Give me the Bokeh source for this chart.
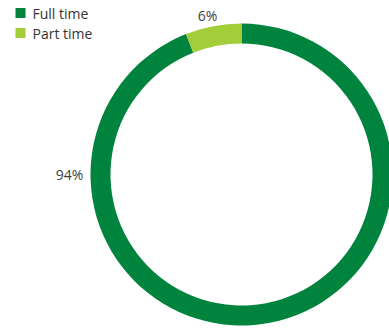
import math
from bokeh.plotting import figure
from bokeh.models import Range1d, ColumnDataSource
from bokeh.core.properties import value
from bokeh.embed import file_html
from bokeh.resources import INLINE

categories = ["Full time", "Part time"]
values = [94, 6]
labels = ["94%", "6%"]
colors = ["#00843D", "#A3CD39"]

W, H = 389, 329
p = figure(width=W, height=H, output_backend="svg", toolbar_location=None,
           x_range=Range1d(0, W), y_range=Range1d(0, H), min_border=0)
p.axis.visible = False
p.grid.visible = False
p.outline_line_color = None
p.background_fill_color = "white"
p.border_fill_color = "white"

cx, cy = 241, 155
r_out, r_in = 151, 131

total = sum(values)
# Full time drawn clockwise from 12 o'clock; part time fills the rest
starts, ends = [], []
a = math.pi / 2
for v in values:
    sweep = 2 * math.pi * v / total
    starts.append(a - sweep)
    ends.append(a)
    a -= sweep
src = ColumnDataSource(dict(start=starts, end=ends, color=colors))
p.annular_wedge(x=cx, y=cy, inner_radius=r_in, outer_radius=r_out,
                start_angle="start", end_angle="end", color="color",
                line_color=None, source=src)

# value labels
label_pos = {"94%": (180, 172), "6%": (102, 163)}
lx, ly = [], []
for lab in labels:
    ang, rr = label_pos[lab]
    lx.append(cx + rr * math.cos(math.radians(ang)))
    ly.append(cy + rr * math.sin(math.radians(ang)))
p.text(x=lx, y=ly, text=labels, text_font=value("Open Sans"),
       text_font_size="14px", text_color="#404040",
       text_align="center", text_baseline="middle")

# legend
leg_y = [H - 13, H - 33]
p.rect(x=[20, 20], y=[H - 12.5, H - 32.5], width=10, height=10,
       color=colors, line_color=None)
p.text(x=[32, 32], y=leg_y, text=categories, text_font=value("Open Sans"),
       text_font_size="14px", text_color="#333333",
       text_align="left", text_baseline="middle")

open("out.html", "w").write(file_html(p, INLINE))
